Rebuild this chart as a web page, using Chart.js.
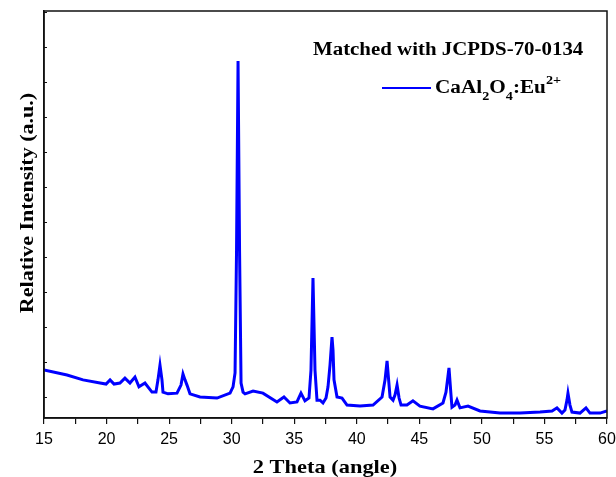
<!DOCTYPE html>
<html>
<head>
<meta charset="utf-8">
<script src="https://cdn.jsdelivr.net/npm/chart.js@4"></script>
<style>
  body { margin: 0; background: #fff; }
  canvas { display: block; }
</style>
</head>
<body>
<canvas id="xrd" width="616" height="477"></canvas>
<script>
// 2 theta positions (deg) and relative intensity (a.u.)
const twoTheta = [
  15.00, 16.84, 18.12, 19.48, 19.96, 20.28, 20.60, 21.07, 21.47, 21.87,
  22.27, 22.59, 23.07, 23.63, 23.95, 24.11, 24.27, 24.43, 24.51, 24.91,
  25.63, 25.95, 26.11, 26.27, 26.43, 26.67, 27.47, 28.83, 29.87, 30.11,
  30.27, 30.39, 30.51, 30.63, 30.75, 30.91, 31.07, 31.71, 32.50, 33.62,
  34.18, 34.66, 35.22, 35.54, 35.86, 36.18, 36.34, 36.50, 36.66, 36.82,
  37.06, 37.30, 37.54, 37.70, 37.86, 38.02, 38.10, 38.18, 38.42, 38.82,
  39.22, 40.26, 41.30, 42.02, 42.26, 42.42, 42.58, 42.66, 42.90, 43.06,
  43.22, 43.38, 43.54, 44.01, 44.49, 45.05, 46.09, 46.89, 47.13, 47.37,
  47.53, 47.61, 47.85, 48.01, 48.25, 48.89, 49.85, 51.45, 53.05, 54.65,
  55.61, 56.00, 56.40, 56.64, 56.80, 56.88, 57.04, 57.20, 57.84, 58.32,
  58.64, 59.44, 60.00
];
const intensity = [
  0.77, 0.63, 0.49, 0.40, 0.37, 0.49, 0.37, 0.40, 0.54, 0.40,
  0.57, 0.29, 0.40, 0.14, 0.14, 0.49, 0.91, 0.49, 0.14, 0.09,
  0.11, 0.34, 0.66, 0.49, 0.34, 0.09, 0.00, -0.03, 0.11, 0.29,
  0.69, 4.20, 9.60, 4.20, 0.40, 0.14, 0.09, 0.17, 0.11, -0.14,
  0.00, -0.17, -0.14, 0.11, -0.11, -0.03, 0.77, 3.40, 0.77, -0.09,
  -0.09, -0.17, -0.03, 0.29, 0.91, 1.71, 1.34, 0.49, 0.00, -0.03,
  -0.23, -0.26, -0.23, 0.00, 0.49, 1.03, 0.34, 0.00, -0.09, 0.06,
  0.34, -0.03, -0.23, -0.23, -0.11, -0.26, -0.34, -0.17, 0.14, 0.83,
  0.06, -0.29, -0.23, -0.09, -0.31, -0.26, -0.40, -0.46, -0.46, -0.43,
  -0.40, -0.31, -0.46, -0.37, -0.09, 0.11, -0.23, -0.43, -0.46, -0.31,
  -0.46, -0.46, -0.40
];
const xTicks = [15, 20, 25, 30, 35, 40, 45, 50, 55, 60];
const xTitle = "2 Theta (angle)";
const yTitle = "Relative Intensity (a.u.)";
const matchNote = "Matched with JCPDS-70-0134";

const points = twoTheta.map((t, i) => ({ x: t, y: intensity[i] }));

// the source font is a bit wider than Liberation Serif, so stretch it a little
function wideText(ctx, s, x, y, font, sx) {
  ctx.save();
  ctx.font = font;
  ctx.translate(x, y);
  ctx.scale(sx, 1);
  ctx.fillText(s, 0, 0);
  const w = ctx.measureText(s).width * sx;
  ctx.restore();
  return w;
}

// frame box, inward y ticks, axis titles and the in-plot legend text
const framePlugin = {
  id: "frame",
  afterDraw(chart) {
    const { ctx, chartArea: a, scales } = chart;
    ctx.save();
    ctx.strokeStyle = "#111";
    ctx.lineWidth = 1.5;
    ctx.strokeRect(a.left, a.top, a.right - a.left, a.bottom - a.top);

    // inward ticks on the left axis
    ctx.lineWidth = 1;
    scales.y.ticks.forEach(t => {
      const py = Math.round(scales.y.getPixelForValue(t.value)) + 0.5;
      ctx.beginPath();
      ctx.moveTo(a.left, py);
      ctx.lineTo(a.left + 3, py);
      ctx.stroke();
    });

    ctx.fillStyle = "#000";
    ctx.textBaseline = "alphabetic";
    const bold19 = "bold 19px 'Liberation Serif'";

    // x title
    ctx.font = bold19;
    let w = ctx.measureText(xTitle).width * 1.18;
    wideText(ctx, xTitle, 325 - w / 2, 473, bold19, 1.18);

    // y title, rotated
    ctx.save();
    ctx.translate(33, 203);
    ctx.rotate(-Math.PI / 2);
    w = ctx.measureText(yTitle).width * 1.16;
    wideText(ctx, yTitle, -w / 2, 0, bold19, 1.16);
    ctx.restore();

    // note
    wideText(ctx, matchNote, 313, 55, "bold 18px 'Liberation Serif'", 1.16);

    // legend line
    ctx.strokeStyle = "#0000ff";
    ctx.lineWidth = 2;
    ctx.beginPath();
    ctx.moveTo(382, 88);
    ctx.lineTo(431, 88);
    ctx.stroke();

    // CaAl2O4:Eu2+
    let x = 435;
    const big = "bold 18px 'Liberation Serif'";
    const small = "bold 12px 'Liberation Serif'";
    const parts = [
      ["CaAl", big, 93], ["2", small, 100], ["O", big, 93],
      ["4", small, 100], [":Eu", big, 93], ["2+", small, 84]
    ];
    parts.forEach(([s, f, y]) => {
      x += wideText(ctx, s, x, y, f, 1.18);
    });
    ctx.restore();
  }
};

new Chart(document.getElementById("xrd"), {
  type: "line",
  data: {
    datasets: [{
      label: "CaAl2O4:Eu2+",
      data: points,
      borderColor: "#0000ff",
      borderWidth: 3,
      pointRadius: 0,
      tension: 0,
      fill: false
    }]
  },
  options: {
    responsive: false,
    animation: false,
    devicePixelRatio: 1,
    layout: { padding: { top: 11, right: 9, left: 0, bottom: 0 } },
    plugins: { legend: { display: false }, tooltip: { enabled: false } },
    scales: {
      x: {
        type: "linear",
        min: 15,
        max: 60,
        afterBuildTicks: s => {
          const t = [];
          for (let v = 15; v <= 60; v += 2.5) t.push({ value: v });
          s.ticks = t;
        },
        ticks: {
          autoSkip: false,
          maxRotation: 0,
          color: "#000",
          padding: 6,
          font: { family: "'Liberation Sans'", size: 16 },
          callback: v => xTicks.includes(v) ? v : ""
        },
        grid: { drawOnChartArea: false, tickLength: 6, color: "#111", lineWidth: 1.2 },
        border: { color: "#111", width: 1.5 },
        afterFit: s => {
          s.height = 59;
          // let the "60" label run off the edge like in the original
          s.paddingLeft = 0;
          s.paddingRight = 0;
        }
      },
      y: {
        min: -0.6,
        max: 11.03,
        ticks: { stepSize: 1, includeBounds: false, display: false },
        grid: { display: false },
        border: { color: "#111", width: 1.5 },
        afterFit: s => { s.width = 44; }
      }
    }
  },
  plugins: [framePlugin]
});
</script>
</body>
</html>
